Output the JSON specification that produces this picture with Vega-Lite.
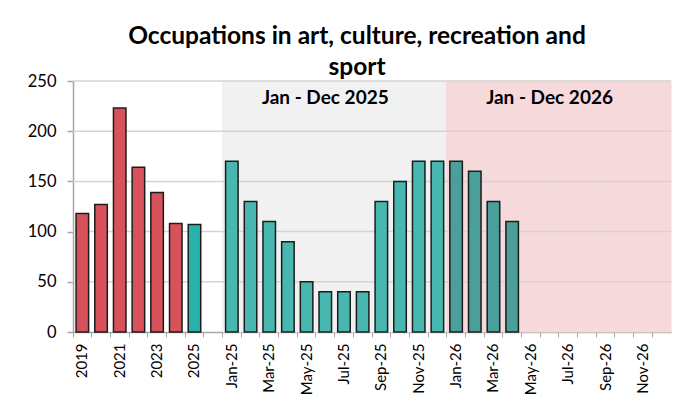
{
  "$schema": "https://vega.github.io/schema/vega-lite/v6.json",
  "width": 598,
  "height": 251,
  "autosize": {"type": "none"},
  "padding": {"left": 73, "top": 81, "right": 27, "bottom": 83},
  "background": "white",
  "title": {
    "text": ["Occupations in art, culture, recreation and", "sport"],
    "font": "Lato",
    "fontSize": 24.5,
    "fontWeight": "bold",
    "lineHeight": 31,
    "color": "#000000",
    "anchor": "middle",
    "dx": -15,
    "offset": -7
  },
  "datasets": {
    "bars": [
      {"cat": "2019", "value": 118, "grp": "hist"},
      {"cat": "2020", "value": 127, "grp": "hist"},
      {"cat": "2021", "value": 223, "grp": "hist"},
      {"cat": "2022", "value": 164, "grp": "hist"},
      {"cat": "2023", "value": 139, "grp": "hist"},
      {"cat": "2024", "value": 108, "grp": "hist"},
      {"cat": "2025", "value": 107, "grp": "ytd"},
      {"cat": "Jan-25", "value": 170, "grp": "m25"},
      {"cat": "Feb-25", "value": 130, "grp": "m25"},
      {"cat": "Mar-25", "value": 110, "grp": "m25"},
      {"cat": "Apr-25", "value": 90, "grp": "m25"},
      {"cat": "May-25", "value": 50, "grp": "m25"},
      {"cat": "Jun-25", "value": 40, "grp": "m25"},
      {"cat": "Jul-25", "value": 40, "grp": "m25"},
      {"cat": "Aug-25", "value": 40, "grp": "m25"},
      {"cat": "Sep-25", "value": 130, "grp": "m25"},
      {"cat": "Oct-25", "value": 150, "grp": "m25"},
      {"cat": "Nov-25", "value": 170, "grp": "m25"},
      {"cat": "Dec-25", "value": 170, "grp": "m25"},
      {"cat": "Jan-26", "value": 170, "grp": "m26"},
      {"cat": "Feb-26", "value": 160, "grp": "m26"},
      {"cat": "Mar-26", "value": 130, "grp": "m26"},
      {"cat": "Apr-26", "value": 110, "grp": "m26"}
    ],
    "periods": [
      {"cat": "Jan-25", "period": "2025"}, {"cat": "Feb-25", "period": "2025"},
      {"cat": "Mar-25", "period": "2025"}, {"cat": "Apr-25", "period": "2025"},
      {"cat": "May-25", "period": "2025"}, {"cat": "Jun-25", "period": "2025"},
      {"cat": "Jul-25", "period": "2025"}, {"cat": "Aug-25", "period": "2025"},
      {"cat": "Sep-25", "period": "2025"}, {"cat": "Oct-25", "period": "2025"},
      {"cat": "Nov-25", "period": "2025"}, {"cat": "Dec-25", "period": "2025"},
      {"cat": "Jan-26", "period": "2026"}, {"cat": "Feb-26", "period": "2026"},
      {"cat": "Mar-26", "period": "2026"}, {"cat": "Apr-26", "period": "2026"},
      {"cat": "May-26", "period": "2026"}, {"cat": "Jun-26", "period": "2026"},
      {"cat": "Jul-26", "period": "2026"}, {"cat": "Aug-26", "period": "2026"},
      {"cat": "Sep-26", "period": "2026"}, {"cat": "Oct-26", "period": "2026"},
      {"cat": "Nov-26", "period": "2026"}, {"cat": "Dec-26", "period": "2026"}
    ],
    "grid": [{"g": 50}, {"g": 100}, {"g": 150}, {"g": 200}, {"g": 250}],
    "labels": [
      {"cat": "Jun-25", "label": "Jan - Dec 2025", "ly": 227},
      {"cat": "Jun-26", "label": "Jan - Dec 2026", "ly": 227}
    ]
  },
  "layer": [
    {
      "data": {"name": "periods"},
      "mark": {"type": "bar", "strokeWidth": 1},
      "encoding": {
        "x": {
          "field": "cat", "type": "nominal", "sort": null,
          "scale": {
            "domain": ["2019","2020","2021","2022","2023","2024","2025"," ","Jan-25","Feb-25","Mar-25","Apr-25","May-25","Jun-25","Jul-25","Aug-25","Sep-25","Oct-25","Nov-25","Dec-25","Jan-26","Feb-26","Mar-26","Apr-26","May-26","Jun-26","Jul-26","Aug-26","Sep-26","Oct-26","Nov-26","Dec-26"],
            "paddingInner": 0, "paddingOuter": 0
          },
          "axis": {
            "orient": "bottom", "title": null, "labels": false, "bandPosition": 0,
            "ticks": true, "tickSize": 5, "tickColor": "#a6a6a6", "tickWidth": 1,
            "domain": true, "domainColor": "#a6a6a6", "domainWidth": 1.5, "grid": false
          }
        },
        "y": {"datum": 250, "type": "quantitative", "scale": {"domain": [0, 250], "nice": false}, "axis": {"title": null, "values": [0, 50, 100, 150, 200, 250], "grid": false}},
        "y2": {"datum": 0},
        "color": {"field": "period", "type": "nominal", "scale": {"domain": ["2025", "2026"], "range": ["#f1f1f1", "#f6dadb"]}, "legend": null},
        "stroke": {"field": "period", "type": "nominal", "scale": {"domain": ["2025", "2026"], "range": ["#f1f1f1", "#f6dadb"]}, "legend": null}
      }
    },
    {
      "data": {"name": "grid"},
      "mark": {"type": "rule", "color": "#d4d4d4", "strokeWidth": 1.5},
      "encoding": {
        "y": {"field": "g", "type": "quantitative", "scale": {"domain": [0, 250], "nice": false}, "axis": {"title": null, "values": [0, 50, 100, 150, 200, 250], "grid": false}}
      }
    },
    {
      "data": {"name": "bars"},
      "mark": {"type": "bar", "stroke": "#1c1c1c", "strokeWidth": 1.5},
      "encoding": {
        "x": {
          "field": "cat", "type": "nominal", "sort": null,
          "scale": {
            "domain": ["2019","2020","2021","2022","2023","2024","2025"," ","Jan-25","Feb-25","Mar-25","Apr-25","May-25","Jun-25","Jul-25","Aug-25","Sep-25","Oct-25","Nov-25","Dec-25","Jan-26","Feb-26","Mar-26","Apr-26","May-26","Jun-26","Jul-26","Aug-26","Sep-26","Oct-26","Nov-26","Dec-26"],
            "paddingInner": 0.33
          },
          "axis": {
            "orient": "bottom", "title": null, "ticks": false, "domain": false, "grid": false,
            "values": ["2019","2021","2023","2025","Jan-25","Mar-25","May-25","Jul-25","Sep-25","Nov-25","Jan-26","Mar-26","May-26","Jul-26","Sep-26","Nov-26"],
            "labelAngle": -90, "labelPadding": 11, "labelFont": "Lato", "labelFontSize": 15, "labelColor": "#000000"
          }
        },
        "y": {"field": "value", "type": "quantitative", "scale": {"domain": [0, 250], "nice": false}, "axis": {"title": null, "values": [0, 50, 100, 150, 200, 250], "grid": false}},
        "color": {"field": "grp", "type": "nominal", "scale": {"domain": ["hist", "ytd", "m25", "m26"], "range": ["#d8525b", "#28b2ac", "#47b7b0", "#4a9f9b"]}, "legend": null}
      }
    },
    {
      "data": {"name": "labels"},
      "mark": {"type": "text", "font": "Lato", "fontSize": 19, "fontWeight": "bold", "color": "#000000", "baseline": "alphabetic", "align": "center"},
      "encoding": {
        "x": {
          "field": "cat", "type": "nominal", "sort": null, "bandPosition": 1,
          "scale": {
            "domain": ["2019","2020","2021","2022","2023","2024","2025"," ","Jan-25","Feb-25","Mar-25","Apr-25","May-25","Jun-25","Jul-25","Aug-25","Sep-25","Oct-25","Nov-25","Dec-25","Jan-26","Feb-26","Mar-26","Apr-26","May-26","Jun-26","Jul-26","Aug-26","Sep-26","Oct-26","Nov-26","Dec-26"],
            "paddingInner": 0, "paddingOuter": 0
          },
          "axis": null
        },
        "y": {"field": "ly", "type": "quantitative", "scale": {"domain": [0, 250], "nice": false}, "axis": {"title": null, "values": [0, 50, 100, 150, 200, 250], "grid": false}},
        "text": {"field": "label"}
      }
    }
  ],
  "resolve": {"scale": {"x": "independent", "color": "independent", "stroke": "independent"}, "axis": {"x": "independent"}},
  "config": {
    "view": {"stroke": null},
    "axisY": {
      "domainColor": "#a6a6a6", "domainWidth": 1.5, "tickColor": "#a6a6a6", "tickWidth": 1.5, "tickSize": 6,
      "labelFont": "Lato", "labelFontSize": 16.5, "labelColor": "#000000", "labelPadding": 11
    }
  }
}
